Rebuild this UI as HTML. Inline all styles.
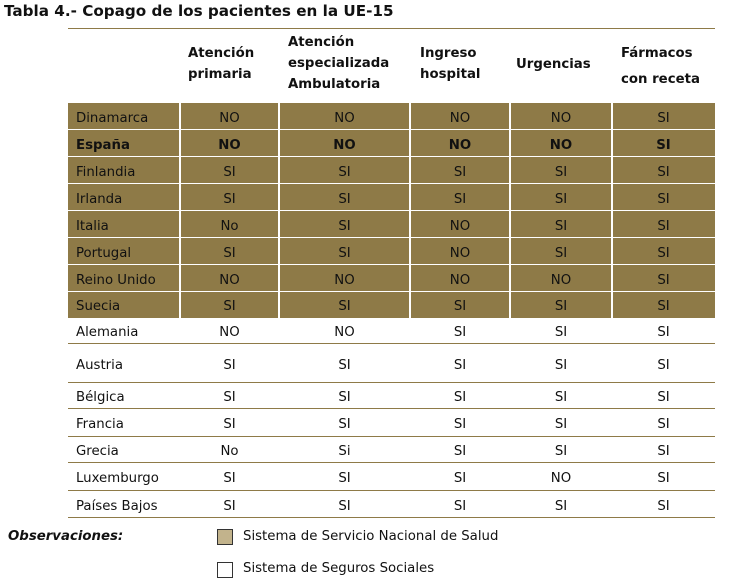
<!DOCTYPE html>
<html><head><meta charset="utf-8"><style>
body{margin:0;width:753px;height:584px;background:#fff;position:relative;overflow:hidden;font-family:"DejaVu Sans","Liberation Sans",sans-serif;color:#111;}
.a{position:absolute;}
.t{position:absolute;font-size:13.3px;line-height:16px;white-space:nowrap;}
.h{position:absolute;font-size:13.3px;font-weight:bold;line-height:21px;white-space:nowrap;}
.c{text-align:center;}
</style></head><body>
<div class="a" style="left:4px;top:2px;font-size:15.2px;font-weight:bold;line-height:18px;">Tabla 4.- Copago de los pacientes en la UE-15</div>
<div class="a" style="left:68px;top:28px;width:647px;height:1px;background:#8e7a47;"></div>
<div class="h" style="left:188px;top:43px;">Atención<br>primaria</div>
<div class="h" style="left:288px;top:32px;">Atención<br>especializada<br>Ambulatoria</div>
<div class="h" style="left:420px;top:43px;">Ingreso<br>hospital</div>
<div class="h" style="left:516px;top:54px;">Urgencias</div>
<div class="h" style="left:621px;top:41px;line-height:26px;">Fármacos<br>con receta</div>
<div id="rows"></div>
<div class="a" style="left:8px;top:529px;font-size:13.3px;font-weight:bold;font-style:italic;">Observaciones:</div>
<div class="a" style="left:217px;top:529px;width:14px;height:14px;background:#c2b38c;border:1px solid #333;"></div>
<div class="t" style="left:243px;top:529px;">Sistema de Servicio Nacional de Salud</div>
<div class="a" style="left:217px;top:562px;width:14px;height:14px;background:#fff;border:1px solid #333;"></div>
<div class="t" style="left:243px;top:561px;">Sistema de Seguros Sociales</div>
<script>
const countries=["Dinamarca","España","Finlandia","Irlanda","Italia","Portugal","Reino Unido","Suecia","Alemania","Austria","Bélgica","Francia","Grecia","Luxemburgo","Países Bajos"];
const primaria=["NO","NO","SI","SI","No","SI","NO","SI","NO","SI","SI","SI","No","SI","SI"];
const especializada=["NO","NO","SI","SI","SI","SI","NO","SI","NO","SI","SI","SI","Si","SI","SI"];
const hospital=["NO","NO","SI","SI","NO","NO","NO","SI","SI","SI","SI","SI","SI","SI","SI"];
const urgencias=["NO","NO","SI","SI","SI","SI","NO","SI","SI","SI","SI","SI","SI","NO","SI"];
const farmacos=["SI","SI","SI","SI","SI","SI","SI","SI","SI","SI","SI","SI","SI","SI","SI"];
const sns=[1,1,1,1,1,1,1,1,0,0,0,0,0,0,0];
const rowTops=[103,130,157,184,211,238,265,292,318,344,383,409,437,463,491,518];
const colX=[68,180,279,410,510,612,715];
const root=document.getElementById('rows');
const cols=[primaria,especializada,hospital,urgencias,farmacos];
countries.forEach((c,i)=>{
  const y=rowTops[i],h=rowTops[i+1]-y;
  const r=document.createElement('div');
  r.className='a';
  
  
  r.style.cssText=`left:68px;top:${y}px;width:647px;height:${h}px;`+(sns[i]?'background:#8e7a47;':'border-bottom:1px solid #8e7a47;box-sizing:border-box;');
  root.appendChild(r);
  const bold=c==="España"?"font-weight:bold;":"";
  const ty=y+Math.round((h-16)/2)+2;
  const n=document.createElement('div');
  n.className='t';
  
  
  n.style.cssText=`left:76px;top:${ty}px;`+bold;
  n.textContent=c;root.appendChild(n);
  cols.forEach((arr,j)=>{
    const d=document.createElement('div');
    d.className='t c';
    
    
    d.style.cssText=`left:${colX[j+1]}px;width:${colX[j+2]-colX[j+1]}px;top:${ty}px;`+bold;
    d.textContent=arr[i];root.appendChild(d);
    if(sns[i]){
      const v=document.createElement('div');
      v.className='a';
      
      
      v.style.cssText=`left:${colX[j+1]-1}px;top:${y}px;width:2px;height:${h}px;background:#fff;`;
      root.appendChild(v);
    }
  });
  if(sns[i]&&i<7){
    const l=document.createElement('div');
    l.className='a';
    
    
    l.style.cssText=`left:68px;top:${rowTops[i+1]-1}px;width:647px;height:2px;background:#fff;`;
    root.appendChild(l);
  }
});
</script>
</body></html>
